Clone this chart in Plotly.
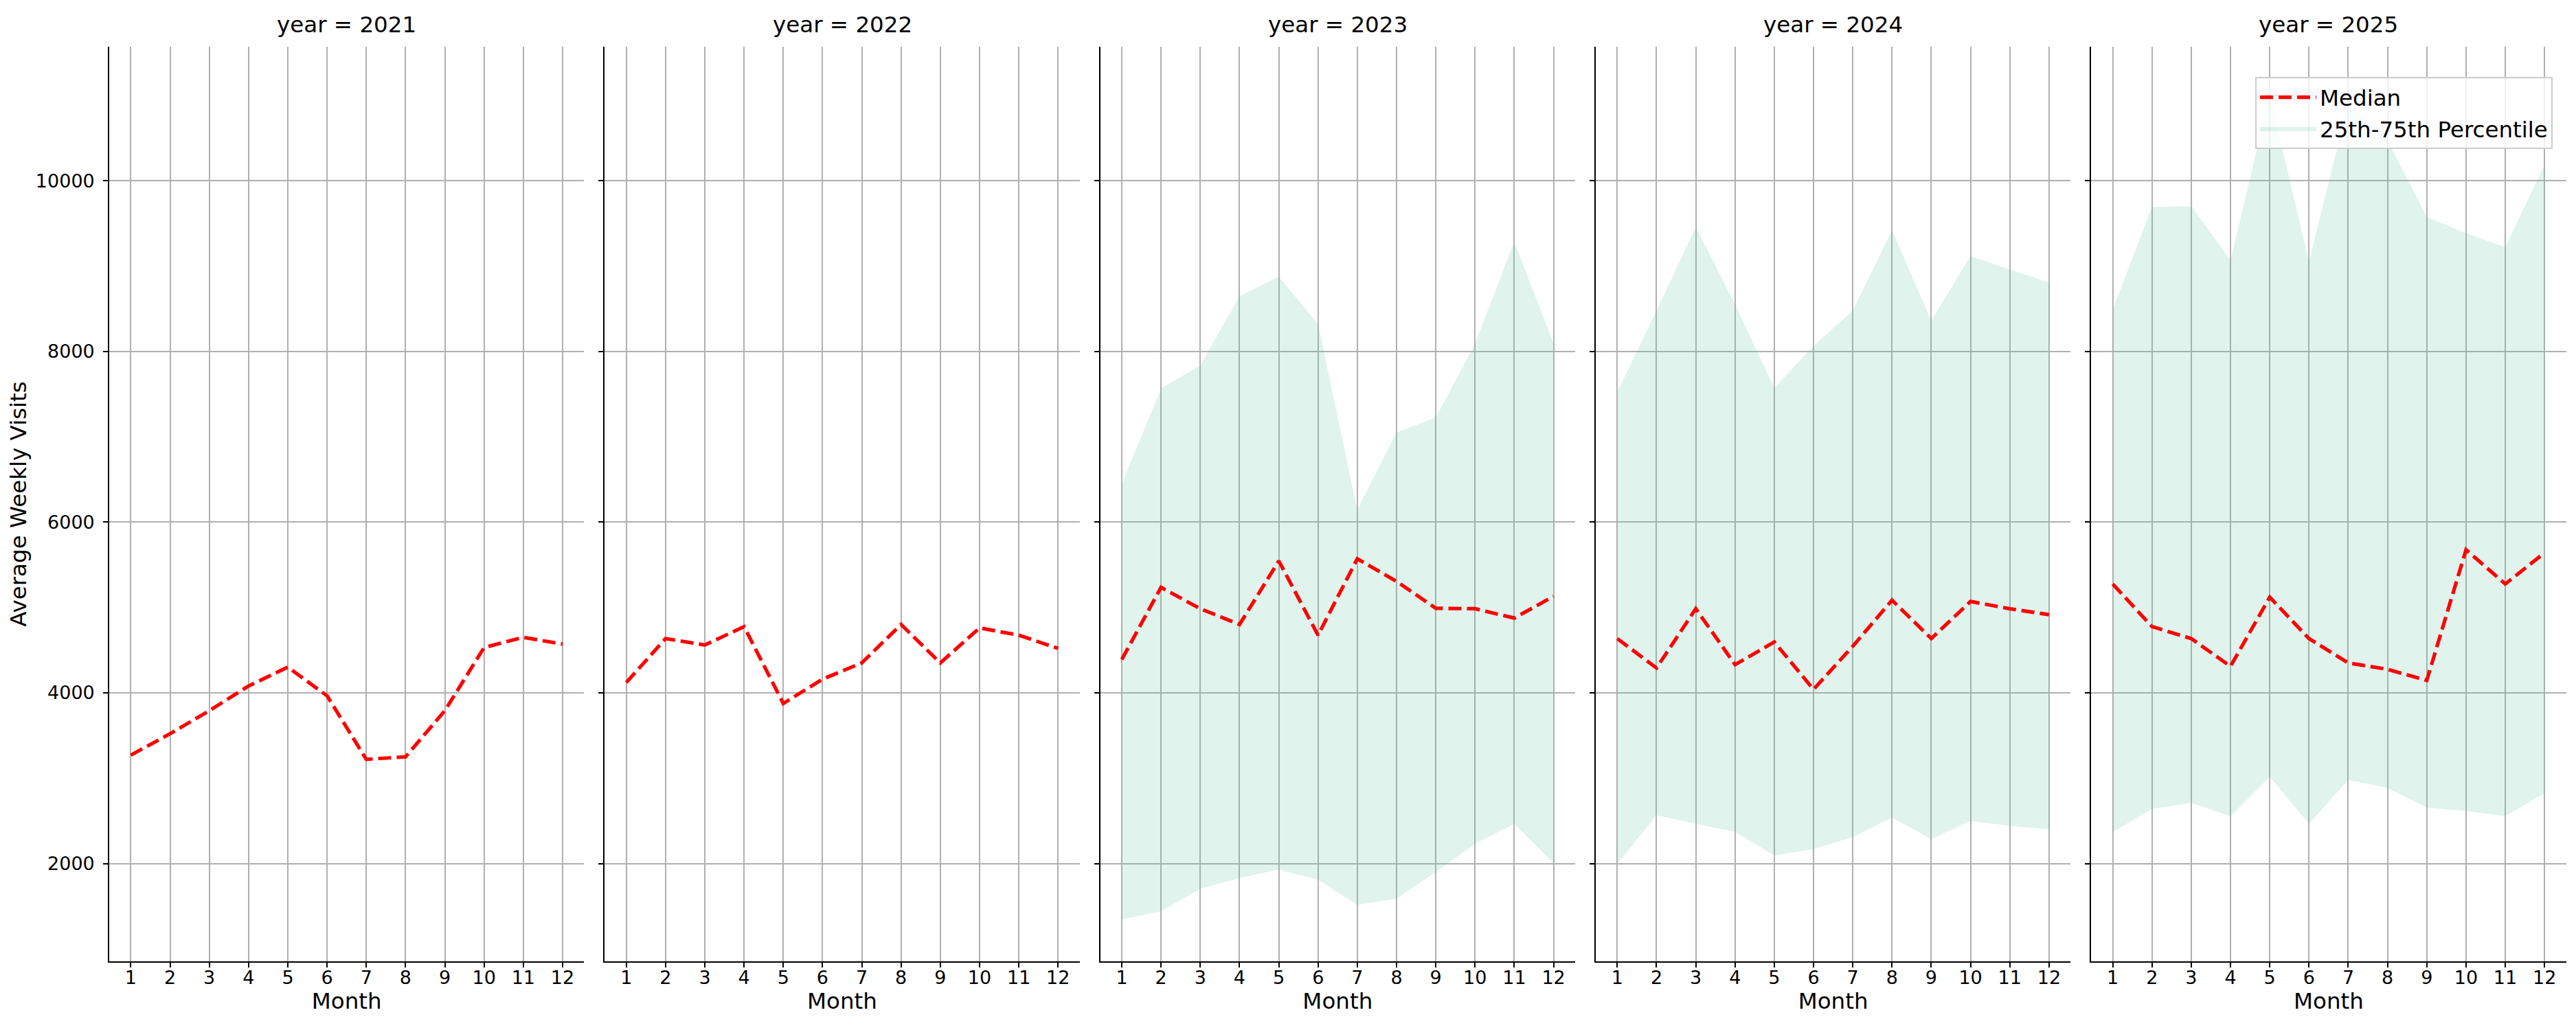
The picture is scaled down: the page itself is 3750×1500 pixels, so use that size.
import plotly.graph_objects as go

# Monthly average weekly visits, facetted by year
years = [2021, 2022, 2023, 2024, 2025]
months = list(range(1, 13))

median_2021 = [3270, 3520, 3790, 4080, 4300, 3965, 3220, 3250, 3790, 4530, 4650, 4570]
median_2022 = [4120, 4635, 4560, 4775, 3875, 4160, 4350, 4800, 4350, 4760, 4675, 4520]
median_2023 = [4390, 5235, 4985, 4800, 5545, 4675, 5570, 5305, 4990, 4985, 4875, 5130]
median_2024 = [4635, 4290, 4985, 4330, 4595, 4040, 4545, 5085, 4635, 5070, 4985, 4915]
median_2025 = [5275, 4775, 4635, 4310, 5120, 4635, 4350, 4275, 4145, 5675, 5275, 5640]

# 25th / 75th percentile band (only available from 2023)
p25_2023 = [1345, 1440, 1705, 1830, 1930, 1810, 1515, 1590, 1900, 2230, 2465, 2000]
p75_2023 = [6445, 7565, 7835, 8645, 8875, 8320, 6145, 7050, 7225, 8090, 9285, 8090]
p25_2024 = [2000, 2565, 2465, 2370, 2095, 2170, 2310, 2540, 2285, 2500, 2440, 2400]
p75_2024 = [7525, 8475, 9455, 8550, 7570, 8065, 8475, 9420, 8360, 9115, 8960, 8805]
p25_2025 = [2370, 2640, 2710, 2555, 3015, 2465, 2980, 2885, 2655, 2615, 2555, 2825]
p75_2025 = [8490, 9690, 9700, 9065, 11000, 9050, 10900, 10470, 9575, 9385, 9220, 10185]

medians = [median_2021, median_2022, median_2023, median_2024, median_2025]
bands = {2023: (p25_2023, p75_2023), 2024: (p25_2024, p75_2024), 2025: (p25_2025, p75_2025)}

y_ticks = [2000, 4000, 6000, 8000, 10000]

FONT = "DejaVu Sans"
FILL = "rgba(102, 194, 165, 0.2)"
W, H = 3750, 1500
ML, MR, MT, MB = 151, 22, 60, 108
plot_w = W - ML - MR
step, panel_w = 721.3, 691.4

fig = go.Figure()

for i, year in enumerate(years):
    sfx = "" if i == 0 else str(i + 1)
    if year in bands:
        lo, hi = bands[year]
        fig.add_trace(go.Scatter(
            x=months, y=lo, mode="lines", line=dict(width=0),
            showlegend=False, hoverinfo="skip",
            xaxis="x" + sfx, yaxis="y" + sfx,
        ))
        fig.add_trace(go.Scatter(
            x=months, y=hi, mode="lines", line=dict(width=0),
            fill="tonexty", fillcolor=FILL,
            name="25th-75th Percentile", legendrank=2,
            showlegend=(year == 2023),
            xaxis="x" + sfx, yaxis="y" + sfx,
        ))
    fig.add_trace(go.Scatter(
        x=months, y=medians[i], mode="lines",
        line=dict(color="red", width=5.2, dash="19px,8px"),
        name="Median", legendrank=1, showlegend=(i == 0),
        xaxis="x" + sfx, yaxis="y" + sfx,
    ))

    left = i * step / plot_w
    right = (i * step + panel_w) / plot_w
    fig.layout["xaxis" + sfx] = dict(
        domain=[left, min(right, 1)], range=[0.45, 12.55], anchor="y" + sfx,
        tickvals=months, ticks="outside", ticklen=7, tickwidth=1.7,
        tickcolor="black", ticklabelstandoff=-8,
        showline=True, linecolor="black", linewidth=1.7,
        showgrid=True, gridcolor="#b0b0b0", gridwidth=1.7, zeroline=False,
        tickfont=dict(family=FONT, size=27, color="black"),
        title=dict(text="Month", font=dict(family=FONT, size=32.5, color="black"), standoff=6),
    )
    fig.layout["yaxis" + sfx] = dict(
        domain=[0, 1], range=[854, 11569], anchor="x" + sfx,
        tickvals=y_ticks, tickformat="d", ticks="outside", ticklen=7, tickwidth=1.7,
        tickcolor="black", ticklabelstandoff=7, showticklabels=(i == 0),
        showline=True, linecolor="black", linewidth=1.7,
        showgrid=True, gridcolor="#b0b0b0", gridwidth=1.7, zeroline=False,
        tickfont=dict(family=FONT, size=27, color="black"),
    )
    fig.add_annotation(
        text=f"year = {year}", xref=f"x{sfx} domain", yref="paper",
        x=0.5, y=1, xanchor="center", yanchor="bottom", yshift=11,
        showarrow=False, font=dict(family=FONT, size=32.5, color="black"),
    )

fig.layout.yaxis.title = dict(text="Average Weekly Visits",
                              font=dict(family=FONT, size=32.5, color="black"),
                              standoff=35)

fig.update_layout(
    width=W, height=H,
    margin=dict(l=ML, r=MR, t=MT, b=MB, autoexpand=False),
    paper_bgcolor="white", plot_bgcolor="white",
    font=dict(family=FONT, color="black"),
    showlegend=True,
    legend=dict(
        x=(3275 - ML) / plot_w, y=1 - (104 - MT) / (H - MT - MB),
        xanchor="left", yanchor="top", traceorder="normal",
        bgcolor="rgba(255,255,255,0.8)", bordercolor="#cccccc", borderwidth=2,
        font=dict(family=FONT, size=32.5, color="black"),
        itemwidth=82,
    ),
)

fig.write_html("out.html")
